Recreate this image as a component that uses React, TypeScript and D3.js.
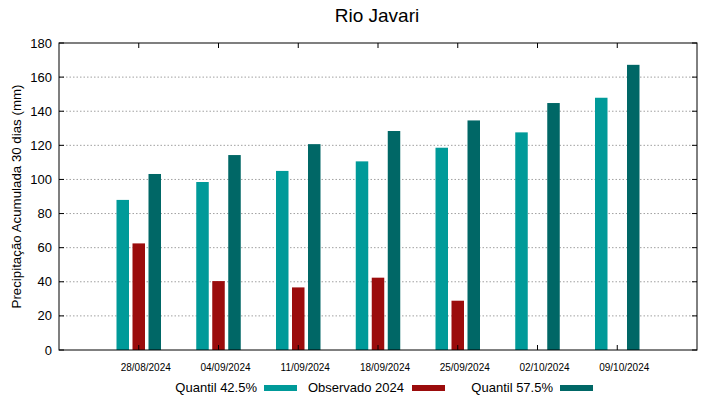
import * as d3 from "d3";

const dates = ["28/08/2024", "04/09/2024", "11/09/2024", "18/09/2024", "25/09/2024", "02/10/2024", "09/10/2024"];
const quantil425 = [88, 98.5, 105, 110.6, 118.6, 127.6, 147.9];
const observado = [62.5, 40.4, 36.7, 42.4, 28.9, null, null];
const quantil575 = [103.2, 114.3, 120.7, 128.4, 134.6, 144.8, 167.2];
const yTicks = [0, 20, 40, 60, 80, 100, 120, 140, 160, 180];

const W = 719;
const H = 399;
const margin = { top: 43, right: 22, bottom: 49, left: 59 };
const font = "'Liberation Sans', Arial, sans-serif";

const series = [
  { name: "Quantil 42.5%", values: quantil425, color: "#009a99", off: -16 },
  { name: "Observado 2024", values: observado, color: "#9b0c0c", off: 0 },
  { name: "Quantil 57.5%", values: quantil575, color: "#006766", off: 16 },
];

export default function App() {
  const x = d3.scaleLinear().domain([0, dates.length + 1]).range([margin.left, W - margin.right]);
  const y = d3.scaleLinear().domain([0, 180]).range([H - margin.bottom, margin.top]);
  const barW = 12.5;
  const x0 = margin.left;
  const x1 = W - margin.right;
  const y0 = H - margin.bottom;
  const y1 = margin.top;

  const legend = [
    { label: "Quantil 42.5%", textEnd: 257, sw: 264, color: series[0].color },
    { label: "Observado 2024", textEnd: 404, sw: 412, color: series[1].color },
    { label: "Quantil 57.5%", textEnd: 553, sw: 560, color: series[2].color },
  ];

  return (
    <svg
      width={W}
      height={H}
      style={{ position: "fixed", left: 0, top: 0, background: "#fff" }}
      fontFamily={font}
    >
      <rect width={W} height={H} fill="#fff" />
      <text x={377} y={22} textAnchor="middle" fontSize={19} fill="#000">
        Rio Javari
      </text>

      {yTicks.slice(1, -1).map((t) => (
        <line key={t} x1={x0} x2={x1} y1={y(t)} y2={y(t)} stroke="#a0a0a0" strokeWidth={1} strokeDasharray="1.5,2" />
      ))}

      {series.map((s) =>
        s.values.map((v, i) =>
          v == null ? null : (
            <rect
              key={s.name + i}
              x={x(i + 1) + s.off - barW / 2}
              y={y(v)}
              width={barW}
              height={y(0) - y(v)}
              fill={s.color}
            />
          ),
        ),
      )}

      {yTicks.map((t) => (
        <g key={t}>
          <line x1={x0} x2={x0 + 5} y1={y(t)} y2={y(t)} stroke="#000" />
          <line x1={x1} x2={x1 - 5} y1={y(t)} y2={y(t)} stroke="#000" />
          <text x={52} y={y(t)} dy="0.35em" textAnchor="end" fontSize={13} fill="#000">
            {t}
          </text>
        </g>
      ))}

      {dates.map((d, i) => (
        <g key={d}>
          <line x1={x(i + 1)} x2={x(i + 1)} y1={y0} y2={y0 - 5} stroke="#000" />
          <line x1={x(i + 1)} x2={x(i + 1)} y1={y1} y2={y1 + 5} stroke="#000" />
          <text x={x(i + 1) + 7} y={371} textAnchor="middle" fontSize={10} fill="#000">
            {d}
          </text>
        </g>
      ))}

      <rect x={x0} y={y1} width={x1 - x0} height={y0 - y1} fill="none" stroke="#000" strokeWidth={1} />

      <text
        transform={`translate(21,${(y0 + y1) / 2}) rotate(-90)`}
        textAnchor="middle"
        fontSize={13.3}
        fill="#000"
      >
        Precipitação Acumulada 30 dias (mm)
      </text>

      {legend.map((l) => (
        <g key={l.label}>
          <text x={l.textEnd} y={392} textAnchor="end" fontSize={13} fill="#000">
            {l.label}
          </text>
          <rect x={l.sw} y={385} width={33} height={6} fill={l.color} />
        </g>
      ))}
    </svg>
  );
}
